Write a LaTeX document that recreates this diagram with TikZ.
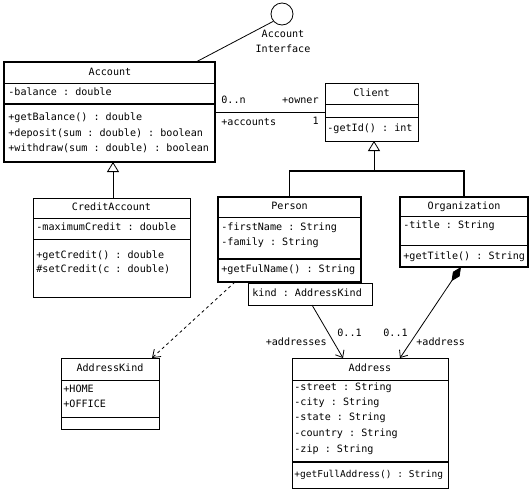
\documentclass[tikz,border=0pt]{standalone}
\usepackage{fontspec}
\setmonofont{DejaVu Sans Mono}
\usetikzlibrary{arrows.meta}

\tikzset{
  frame/.style={draw, anchor=north west, inner sep=0pt, outer sep=0pt},
  member/.style={anchor=west, inner sep=0pt, text height=7pt, text depth=2pt,
    font=\ttfamily\fontsize{10.1}{11}\selectfont},
  title/.style={member, anchor=center},
  inherit/.style={-{Triangle[open, length=10pt, width=12pt, line width=0.8pt]}},
  assoc/.style={-{Straight Barb[length=6pt, width=10pt]}},
}

\begin{document}
\begin{tikzpicture}[x=1pt, y=-1pt, line width=0.8pt]
		\useasboundingbox (0,0) rectangle (532,490);
		
		%%%%% Account %%%%%
		\node[frame, line width=1.6pt, minimum width=211pt, minimum height=100pt] (account) at (4,62) {};
		\draw (account.west |- 0,83) -- (account.east |- 0,83);
		\draw[line width=1.6pt] (account.west |- 0,104) -- (account.east |- 0,104);
		\node[title] (accountT) at (110,73) {Account};
		\node[member] (accountA1) at (8,93) {-balance : double};
		\node[member] (accountM1) at (8,118) {+getBalance() : double};
		\node[member] (accountM2) at (8,133.5) {+deposit(sum : double) : boolean};
		\node[member] (accountM3) at (8,149) {+withdraw(sum : double) : boolean};
		
		%%%%% interface %%%%%
		\node[draw, circle, minimum size=22pt, inner sep=0pt] (iface) at (282,14) {};
		\node[title] (ifaceL1) at (283,35) {Account};
		\node[title] (ifaceL2) at (283,50) {Interface};
		\draw ([xshift=-19pt]account.north east) -- (iface.220);
		
		%%%%% CreditAccount %%%%%
		\node[frame, minimum width=157pt, minimum height=99pt] (credit) at (33,198) {};
		\draw (credit.west |- 0,218) -- (credit.east |- 0,218);
		\draw (credit.west |- 0,239) -- (credit.east |- 0,239);
		\node[title] (creditT) at (111.5,208) {CreditAccount};
		\node[member] (creditA1) at (36,228) {-maximumCredit : double};
		\node[member] (creditM1) at (36,256) {+getCredit() : double};
		\node[member] (creditM2) at (36,270) {\#setCredit(c : double)};
		\draw[inherit] (credit.north -| 113,0) -- (account.south -| 113,0);
		
		%%%%% Client %%%%%
		\node[frame, minimum width=93pt, minimum height=58pt] (client) at (325,83) {};
		\draw (client.west |- 0,104) -- (client.east |- 0,104);
		\draw (client.west |- 0,117) -- (client.east |- 0,117);
		\node[title] (clientT) at (371.5,94) {Client};
		\node[member] (clientM1) at (327,129) {-getId() : int};
		
		%%%%% association %%%%%
		\draw (account.east) -- (client.west);
		\node[member] (accMult) at (221,101) {0..n};
		\node[member, anchor=east] (accRole) at (319,101) {+owner};
		\node[member] (cliRole) at (221,123) {+accounts};
		\node[member, anchor=east] (cliMult) at (319,122) {1};
		
		%%%%% Person %%%%%
		\node[frame, line width=1.2pt, minimum width=143pt, minimum height=85pt] (person) at (218,197) {};
		\draw (person.west |- 0,217) -- (person.east |- 0,217);
		\draw[line width=1.2pt] (person.west |- 0,259) -- (person.east |- 0,259);
		\node[title] (personT) at (289.5,207) {Person};
		\node[member] (personA1) at (221,228) {-firstName : String};
		\node[member] (personA2) at (221,243) {-family : String};
		\node[member] (personM1) at (221,270) {+getFulName() : String};
		\node[frame, minimum width=124pt, minimum height=22pt] (kind) at (248,283) {};
		\node[member] (kindT) at (252,294) {kind : AddressKind};
		
		%%%%% Organization %%%%%
		\node[frame, line width=1.6pt, minimum width=128pt, minimum height=70pt] (org) at (400,197) {};
		\draw (org.west |- 0,216) -- (org.east |- 0,216);
		\draw (org.west |- 0,245) -- (org.east |- 0,245);
		\node[title] (orgT) at (464,207) {Organization};
		\node[member] (orgA1) at (403,226) {-title : String};
		\node[member] (orgM1) at (403,257) {+getTitle() : String};
		
		%%%%% generalization %%%%%
		\coordinate (split) at (374,171);
		\draw[line width=1.6pt] (person.north) |- (split) -| (org.north);
		\draw[inherit] (split) -- (split |- client.south);
		
		%%%%% AddressKind %%%%%
		\node[frame, minimum width=98pt, minimum height=71pt] (addrkind) at (61,358) {};
		\draw (addrkind.west |- 0,380) -- (addrkind.east |- 0,380);
		\draw (addrkind.west |- 0,417) -- (addrkind.east |- 0,417);
		\node[title] (addrkindT) at (110,369) {AddressKind};
		\node[member] (addrkindA1) at (63,390) {+HOME};
		\node[member] (addrkindA2) at (63,405) {+OFFICE};
		\draw[dashed, -{Straight Barb[length=7pt, width=10pt]}] ([xshift=17pt]person.south west) -- ([xshift=-7pt]addrkind.north east);
		
		%%%%% Address %%%%%
		\node[frame, minimum width=156pt, minimum height=130pt] (address) at (292,358) {};
		\draw (address.west |- 0,380) -- (address.east |- 0,380);
		\draw[line width=1.6pt] (address.west |- 0,462) -- (address.east |- 0,462);
		\node[title] (addressT) at (370,369) {Address};
		\node[member] (addressA1) at (294,388) {-street : String};
		\node[member] (addressA2) at (294,403) {-city : String};
		\node[member] (addressA3) at (294,418) {-state : String};
		\node[member] (addressA4) at (294,434) {-country : String};
		\node[member] (addressA5) at (294,450) {-zip : String};
		\node[member, font=\ttfamily\fontsize{9.5}{11}\selectfont] (addressM1) at (294,475) {+getFullAddress() : String};
		
		\draw[assoc] ([xshift=2pt]kind.south) -- ([xshift=-27pt]address.north);
		\node[member, anchor=east] (perRole) at (327,343) {+addresses};
		\node[member] (perMult) at (337,334) {0..1};
		\draw[{Diamond[length=17pt, width=8pt]}-{Straight Barb[length=6pt, width=10pt]}] ([xshift=-3pt]org.south) -- ([xshift=30pt]address.north);
		\node[member] (orgMult) at (383,334) {0..1};
		\node[member] (orgRole) at (416,343) {+address};
		
\end{tikzpicture}
\end{document}
